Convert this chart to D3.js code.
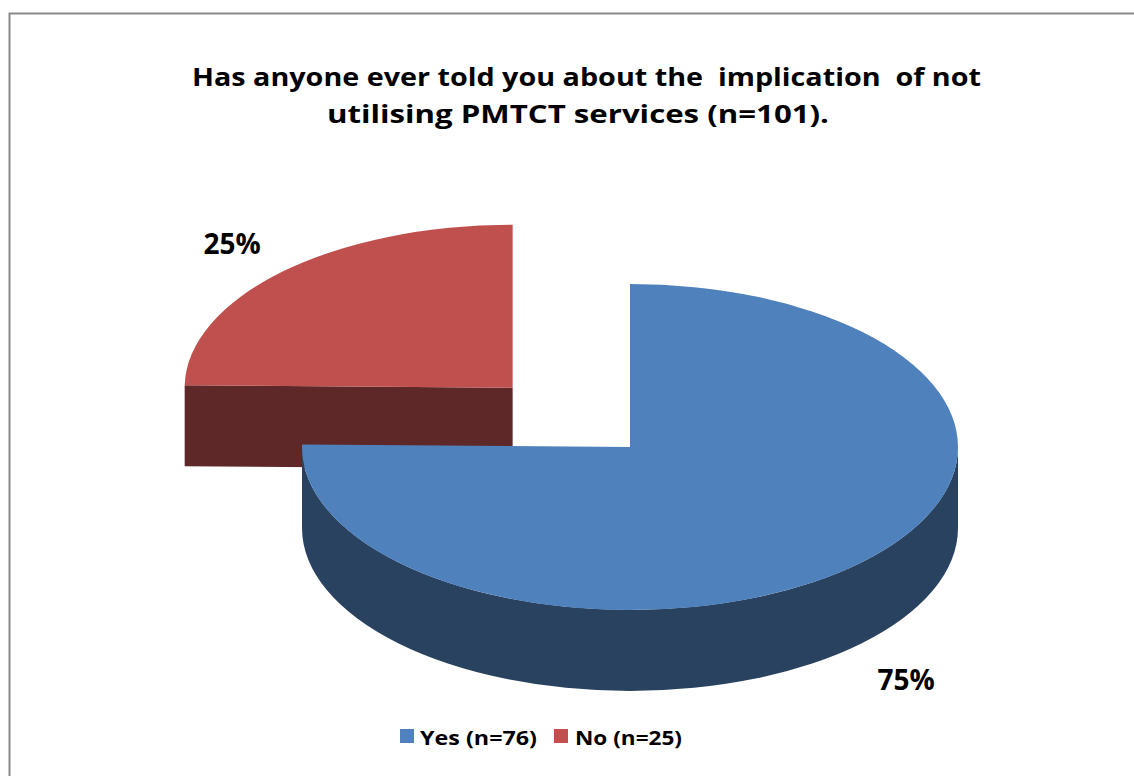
<!DOCTYPE html>
<html><head><meta charset="utf-8">
<script src="https://cdn.jsdelivr.net/npm/d3@7"></script>
<style>body{margin:0;background:#fff}svg{display:block}</style>
</head><body>
<script>
const titleLines = ["Has anyone ever told you about the  implication  of not", "utilising PMTCT services (n=101)."];
const categories = ["Yes (n=76)", "No (n=25)"];
const counts = [76, 25];
const pctLabels = ["75%", "25%"];
const topColors = ["#4F81BD", "#C0504D"];
const sideColors = ["#29425F", "#5E2828"];
const explode = [0, 0.51];

const W = 1134, H = 776;
const svg = d3.select("body").append("svg").attr("width", W).attr("height", H);

svg.append("path").attr("d", `M9.5,${H}V13.5H${W}`).attr("fill","none").attr("stroke","#8a8a8a").attr("stroke-width",2);

const cx = 630, cy = 447, rx = 328, ry = 163, depth = 81;
const sx = d3.scaleLinear().domain([-1,1]).range([cx-rx, cx+rx]);
const sy = d3.scaleLinear().domain([-1,1]).range([cy-ry, cy+ry]);

const pie = d3.pie().sort(null).startAngle(0).endAngle(2*Math.PI);
const arcs = pie(counts);

function pt(o, a, dz){ return [sx(Math.sin(a))+o[0], sy(-Math.cos(a))+o[1]+(dz||0)]; }

const g = svg.append("g");
const order = [1, 0];
order.forEach(i => {
  const d = arcs[i];
  const mid = (d.startAngle + d.endAngle)/2;
  const o = [explode[i]*rx*Math.sin(mid), -explode[i]*ry*Math.cos(mid)];
  const c = [cx+o[0], cy+o[1]];
  const a0 = d.startAngle, a1 = d.endAngle;
  const sg = g.append("g");
  [[a0, a0 - Math.PI/2],[a1, a1 + Math.PI/2]].forEach(([a, n]) => {
    if (-Math.cos(n) > 1e-6) {
      const p = pt(o,a), pb = pt(o,a,depth);
      sg.append("path").attr("d", `M${c[0]},${c[1]}L${p[0]},${p[1]}L${pb[0]},${pb[1]}L${c[0]},${c[1]+depth}Z`)
        .attr("fill", sideColors[i]);
    }
  });
  const s = Math.max(a0, Math.PI/2), e = Math.min(a1, 3*Math.PI/2);
  if (e > s) {
    const p0 = pt(o,s), p1 = pt(o,e), q1 = pt(o,e,depth), q0 = pt(o,s,depth);
    sg.append("path").attr("d", `M${p0[0]},${p0[1]}A${rx},${ry} 0 0 1 ${p1[0]},${p1[1]}L${q1[0]},${q1[1]}A${rx},${ry} 0 0 0 ${q0[0]},${q0[1]}Z`)
      .attr("fill", sideColors[i]);
  }
  const t0 = pt(o,a0), t1 = pt(o,a1);
  const large = (a1 - a0) > Math.PI ? 1 : 0;
  sg.append("path").attr("d", `M${c[0]},${c[1]}L${t0[0]},${t0[1]}A${rx},${ry} 0 ${large} 1 ${t1[0]},${t1[1]}Z`)
    .attr("fill", topColors[i]);
});

const title = svg.append("g").attr("font-family","'Open Sans', 'Liberation Sans', sans-serif").attr("font-weight","bold").attr("font-size",25).attr("fill","#000");
const tl = [[192, 86, 789],[327, 123, 502]];
titleLines.forEach((t, k) => {
  title.append("text").attr("x", tl[k][0]).attr("y", tl[k][1]).attr("textLength", tl[k][2]).attr("lengthAdjust","spacingAndGlyphs")
    .style("white-space","pre").text(t);
});

const labPos = [[232, 254],[906, 690]];
pctLabels.forEach((t,i) => {
  const p = i === 0 ? labPos[1] : labPos[0];
  svg.append("text").attr("x", p[0]).attr("y", p[1]).attr("text-anchor","middle")
    .attr("font-family","'Open Sans', 'Liberation Sans', sans-serif").attr("font-weight","bold").attr("font-size",28).text(t);
});

const leg = [[400, 420, 117],[554, 575, 107]];
categories.forEach((t,i) => {
  svg.append("rect").attr("x", leg[i][0]).attr("y", 729).attr("width",14).attr("height",14).attr("fill", topColors[i]);
  svg.append("text").attr("x", leg[i][1]).attr("y", 745).attr("textLength", leg[i][2]).attr("lengthAdjust","spacingAndGlyphs")
    .attr("font-family","'Open Sans', 'Liberation Sans', sans-serif").attr("font-weight","bold").attr("font-size",19).text(t);
});
</script>
</body></html>
